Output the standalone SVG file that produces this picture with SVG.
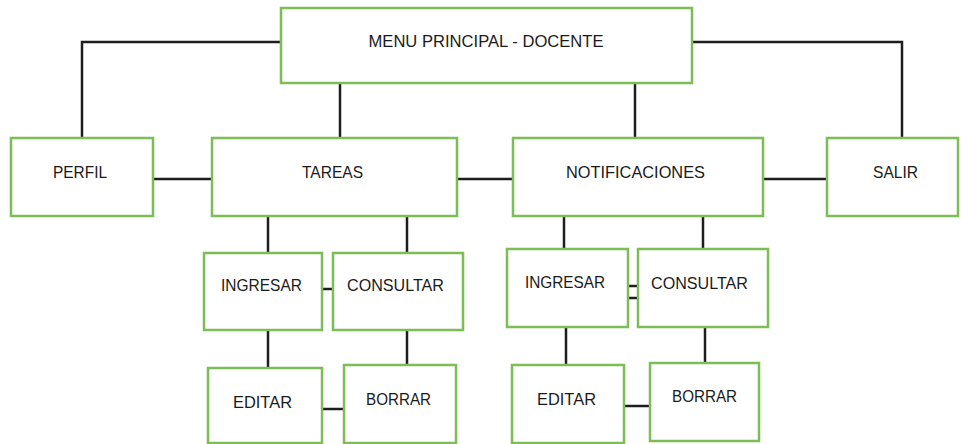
<svg xmlns="http://www.w3.org/2000/svg" width="961" height="444" viewBox="0 0 961 444">
<style>
.box{fill:#fff;stroke:#7cbd56;stroke-width:2.5}
.lbl{font-family:"Liberation Sans",Arial,sans-serif;font-size:17px;fill:#1a1a1a;text-anchor:middle}
.con{fill:none;stroke:#1e1e1e;stroke-width:2.5}
</style>
<rect width="961" height="444" fill="#fff"/>
<g id="connectors">
<polyline class="con" points="280,42 82,42 82,137"/>
<line class="con" x1="340" y1="83" x2="340" y2="137"/>
<line class="con" x1="635" y1="83" x2="635" y2="137"/>
<polyline class="con" points="693,42 902,42 902,137"/>
<line class="con" x1="153" y1="179" x2="211" y2="179"/>
<line class="con" x1="457" y1="179" x2="512" y2="179"/>
<line class="con" x1="763" y1="179" x2="826" y2="179"/>
<line class="con" x1="268" y1="216" x2="268" y2="252"/>
<line class="con" x1="407" y1="216" x2="407" y2="252"/>
<line class="con" x1="322" y1="289" x2="332" y2="289"/>
<line class="con" x1="268" y1="330" x2="268" y2="367"/>
<line class="con" x1="407" y1="331" x2="407" y2="364"/>
<line class="con" x1="322" y1="409" x2="343" y2="409"/>
<line class="con" x1="564" y1="216" x2="564" y2="248"/>
<line class="con" x1="703" y1="216" x2="703" y2="248"/>
<line class="con" x1="628" y1="286" x2="637" y2="286"/>
<line class="con" x1="628" y1="298" x2="637" y2="298"/>
<line class="con" x1="566" y1="327" x2="566" y2="364"/>
<line class="con" x1="705" y1="327" x2="705" y2="362"/>
<line class="con" x1="624" y1="406" x2="649" y2="406"/>
</g>
<g id="menu"><rect class="box" x="281" y="8" width="411" height="75"/><text class="lbl" x="486" y="47" textLength="235" lengthAdjust="spacingAndGlyphs">MENU PRINCIPAL - DOCENTE</text></g>
<g id="perfil"><rect class="box" x="11" y="138" width="142" height="78"/><text class="lbl" x="80" y="178" textLength="54" lengthAdjust="spacingAndGlyphs">PERFIL</text></g>
<g id="tareas"><rect class="box" x="212" y="138" width="245" height="78"/><text class="lbl" x="332.5" y="178" textLength="61" lengthAdjust="spacingAndGlyphs">TAREAS</text></g>
<g id="notificaciones"><rect class="box" x="513" y="138" width="250" height="78"/><text class="lbl" x="635.5" y="178" textLength="139" lengthAdjust="spacingAndGlyphs">NOTIFICACIONES</text></g>
<g id="salir"><rect class="box" x="827" y="138" width="131" height="78"/><text class="lbl" x="895.5" y="178" textLength="45" lengthAdjust="spacingAndGlyphs">SALIR</text></g>
<g id="t-ingresar"><rect class="box" x="204" y="253" width="118" height="77"/><text class="lbl" x="261.5" y="291" textLength="81" lengthAdjust="spacingAndGlyphs">INGRESAR</text></g>
<g id="t-consultar"><rect class="box" x="333" y="253" width="130" height="77"/><text class="lbl" x="395.5" y="291" textLength="97" lengthAdjust="spacingAndGlyphs">CONSULTAR</text></g>
<g id="t-editar"><rect class="box" x="208" y="368" width="114" height="75"/><text class="lbl" x="262.5" y="408" textLength="59" lengthAdjust="spacingAndGlyphs">EDITAR</text></g>
<g id="t-borrar"><rect class="box" x="344" y="365" width="112" height="78"/><text class="lbl" x="398.5" y="405" textLength="65" lengthAdjust="spacingAndGlyphs">BORRAR</text></g>
<g id="n-ingresar"><rect class="box" x="507" y="249" width="121" height="78"/><text class="lbl" x="565" y="288" textLength="80" lengthAdjust="spacingAndGlyphs">INGRESAR</text></g>
<g id="n-consultar"><rect class="box" x="638" y="249" width="130" height="78"/><text class="lbl" x="699.5" y="289" textLength="97" lengthAdjust="spacingAndGlyphs">CONSULTAR</text></g>
<g id="n-editar"><rect class="box" x="512" y="365" width="112" height="78"/><text class="lbl" x="566.5" y="405" textLength="59" lengthAdjust="spacingAndGlyphs">EDITAR</text></g>
<g id="n-borrar"><rect class="box" x="650" y="363" width="109" height="78"/><text class="lbl" x="704.5" y="402" textLength="65" lengthAdjust="spacingAndGlyphs">BORRAR</text></g>
</svg>
